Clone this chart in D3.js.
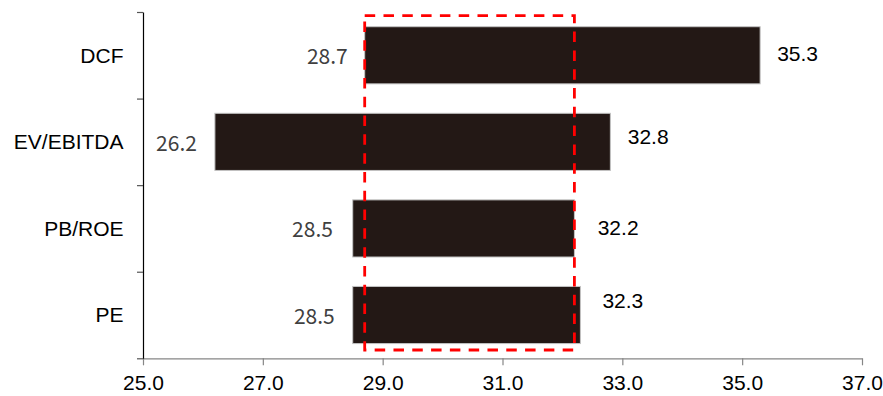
<!DOCTYPE html>
<html>
<head>
<meta charset="utf-8">
<script src="https://cdn.jsdelivr.net/npm/d3@7"></script>
<style>
  html, body { margin: 0; padding: 0; background: #ffffff; }
  svg { display: block; }
</style>
</head>
<body>
<svg id="chart" width="883" height="396"></svg>
<script>
// Valuation ranges by method (low / high)
const categories = ["DCF", "EV/EBITDA", "PB/ROE", "PE"];
const lowValues  = [28.7, 26.2, 28.5, 28.5];
const highValues = [35.3, 32.8, 32.2, 32.3];
const xTickValues = [25, 27, 29, 31, 33, 35, 37];
const xDomain = [25, 37];
// Overlap range highlighted by the dashed box
const overlapRange = [28.7, 32.2];

// Small hand offsets for value labels [dx, dy]
const lowNudge  = { "DCF": [0, 1.4], "EV/EBITDA": [-1, 1.3], "PB/ROE": [-2.8, 0.9], "PE": [-1, 2] };
const highNudge = { "DCF": [0, -1.5], "EV/EBITDA": [0.4, -5], "PB/ROE": [6.3, -0.5], "PE": [5, -14.5] };

const W = 883, H = 396;
const margin = { top: 12, right: 21, bottom: 37.7, left: 143 };
const svg = d3.select("#chart");

const x = d3.scaleLinear().domain(xDomain).range([margin.left, W - margin.right]);
const y = d3.scaleBand().domain(categories)
  .range([margin.top, H - margin.bottom]).paddingInner(0).paddingOuter(0);
const step = y.step();
const barPad = 0.17;

// Bars
svg.append("g").selectAll("rect")
  .data(categories)
  .join("rect")
  .attr("x", (d, i) => x(lowValues[i]))
  .attr("y", d => y(d) + step * barPad)
  .attr("width", (d, i) => x(highValues[i]) - x(lowValues[i]))
  .attr("height", step * (1 - 2 * barPad))
  .attr("fill", "#231815")
  .attr("stroke", "#c4c4c4")
  .attr("stroke-width", 1);

// Dashed box over the overlapping range
const boxTop = y(categories[0]) + step * 0.043;
const boxBottom = y(categories[categories.length - 1]) + step * 0.904;
svg.append("rect")
  .attr("x", x(overlapRange[0]))
  .attr("y", boxTop)
  .attr("width", x(overlapRange[1]) - x(overlapRange[0]))
  .attr("height", boxBottom - boxTop)
  .attr("fill", "none")
  .attr("stroke", "#ff0000")
  .attr("stroke-width", 2.8)
  .attr("stroke-dasharray", "10.5 8.3");

// X axis
const xAxis = svg.append("g")
  .attr("transform", `translate(0,${H - margin.bottom})`)
  .call(d3.axisBottom(x).tickValues(xTickValues)
    .tickFormat(d3.format(".1f")).tickSize(7).tickPadding(10).tickSizeOuter(0));
xAxis.select(".domain").attr("stroke", "#868686").attr("stroke-width", 1.2);
xAxis.selectAll(".tick line").attr("stroke", "#868686").attr("stroke-width", 1.2);
xAxis.selectAll(".tick text")
  .attr("font-family", "'Liberation Sans', Arial, sans-serif")
  .attr("font-size", 21).attr("fill", "#000");

// Y axis: ticks at category boundaries
const yEdges = d3.scaleLinear().domain([0, categories.length])
  .range([H - margin.bottom, margin.top]);
const yAxis = svg.append("g")
  .attr("transform", `translate(${margin.left},0)`)
  .call(d3.axisLeft(yEdges).tickValues(d3.range(categories.length + 1))
    .tickFormat("").tickSize(6).tickSizeOuter(0));
yAxis.select(".domain").attr("stroke", "#000").attr("stroke-width", 1.2);
yAxis.selectAll(".tick line").attr("stroke", "#555").attr("stroke-width", 1.2);

// Category labels
svg.append("g").selectAll("text")
  .data(categories)
  .join("text")
  .attr("x", 123.5)
  .attr("y", d => y(d) + step / 2)
  .attr("dy", "0.35em")
  .attr("text-anchor", "end")
  .attr("font-family", "'Liberation Sans', Arial, sans-serif")
  .attr("font-size", 21)
  .attr("fill", "#000")
  .text(d => d);

// Low value labels (left of bars)
svg.append("g").selectAll("text")
  .data(categories)
  .join("text")
  .attr("x", (d, i) => x(lowValues[i]) - 17 + lowNudge[d][0])
  .attr("y", d => y(d) + step / 2 + lowNudge[d][1])
  .attr("dy", "0.35em")
  .attr("text-anchor", "end")
  .attr("font-family", "'Noto Sans CJK SC', 'Noto Sans', sans-serif")
  .attr("font-size", 21)
  .attr("fill", "#404040")
  .text((d, i) => lowValues[i].toFixed(1));

// High value labels (right of bars)
svg.append("g").selectAll("text")
  .data(categories)
  .join("text")
  .attr("x", (d, i) => x(highValues[i]) + 17 + highNudge[d][0])
  .attr("y", d => y(d) + step / 2 + highNudge[d][1])
  .attr("dy", "0.35em")
  .attr("text-anchor", "start")
  .attr("font-family", "'Liberation Sans', Arial, sans-serif")
  .attr("font-size", 21)
  .attr("fill", "#000")
  .text((d, i) => highValues[i].toFixed(1));
</script>
</body>
</html>
